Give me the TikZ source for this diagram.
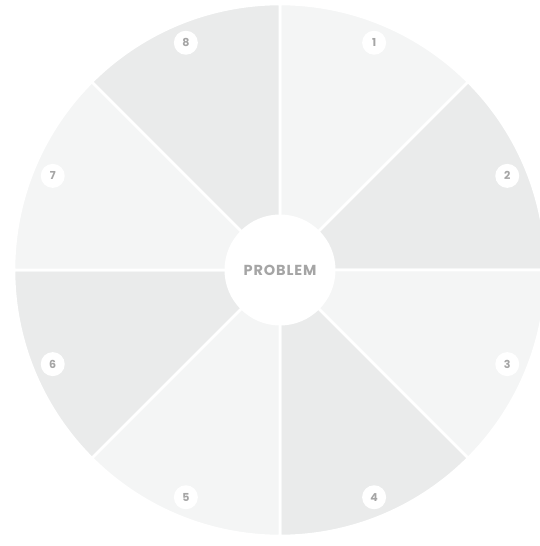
\documentclass[tikz,border=0pt]{standalone}
\usepackage{fontspec}
\setmainfont{Poppins}
\usepackage{tikz}
\usetikzlibrary{positioning}
\definecolor{paleA}{HTML}{F4F5F5}
\definecolor{paleB}{HTML}{EAEBEB}
\definecolor{labgray}{HTML}{A5A5A5}
\tikzset{numdot/.style={circle,fill=white,minimum size=24pt,inner sep=0pt,text=labgray,font=\fontsize{11}{11}\selectfont\bfseries},
hub/.style={circle,fill=white,minimum size=111pt,inner sep=0pt,text=labgray,font=\fontsize{14.5}{15}\selectfont\bfseries\addfontfeatures{LetterSpace=6}}}

\begin{document}
\begin{tikzpicture}[x=1pt,y=1pt]
\useasboundingbox (-280,-276) rectangle (260,270);
\clip (-280,-276) rectangle (260,270);
\fill[white] (-280,-276) rectangle (260,270);
\foreach \k in {1,...,8}{\pgfmathsetmacro{\a}{90-45*(\k-1)}
\pgfmathsetmacro{\b}{\a-45}
\pgfmathtruncatemacro{\odd}{mod(\k,2)}
\ifnum\odd=1 \def\col{paleA}\else\def\col{paleB}\fi
\filldraw[fill=\col,draw=white,line width=2.6pt,line join=round] (0,0) -- (\a:266pt) arc[start angle=\a,end angle=\b,radius=266pt] -- cycle;}
\node[hub] (prob) at (0,0) {PROBLEM};
\foreach \k in {1,...,8}{\pgfmathsetmacro{\t}{67.5-45*(\k-1)}
\node[numdot] (n\k) at (\t:246) {\k};}
\end{tikzpicture}
\end{document}
